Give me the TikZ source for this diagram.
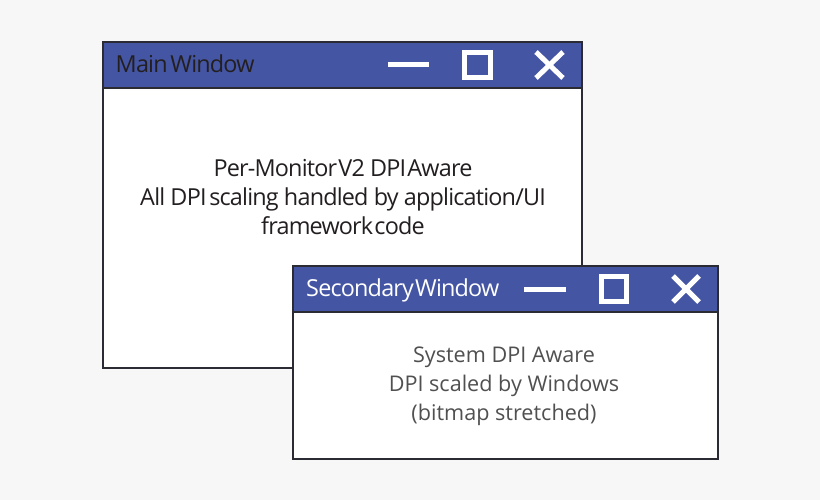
\documentclass[tikz,border=0pt]{standalone}
\usepackage{fontspec}
\setmainfont{Open Sans}
\newfontfamily\tightfont[LetterSpace=-3.5]{Open Sans}
\newfontfamily\softfont{Open Sans}
\definecolor{pagebg}{HTML}{F7F7F7}
\definecolor{barblue}{HTML}{4455A4}
\definecolor{edge}{HTML}{2B2B33}
\definecolor{inkdark}{HTML}{231F20}
\definecolor{inksoft}{HTML}{505050}
\newcommand{\tgt}[1]{\kern-#1pt\relax}
\tikzset{
  winbody/.style={draw=edge,line width=1.3pt,fill=white},
  winbar/.style={draw=edge,line width=1.3pt,fill=barblue},
  glyph/.style={draw=white,line width=5pt},
  bodytext/.style={align=center,font=\tightfont\fontsize{23.4}{29}\selectfont,text=inkdark,inner sep=0pt},
  softtext/.style={align=center,font=\softfont\fontsize{21.6}{29}\selectfont,text=inksoft,inner sep=0pt},
  titletext/.style={anchor=base west,font=\tightfont\fontsize{23.4}{26}\selectfont,inner sep=0pt}
}
\begin{document}
\begin{tikzpicture}[x=1pt,y=-1pt]
\useasboundingbox (0,0) rectangle (820,500);
\fill[pagebg] (0,0) rectangle (820,500);
% main window
\draw[winbody] (103,42) rectangle (582,368);
\draw[winbar] (103,42) rectangle (582,88);
\node[titletext,text=inkdark] (mainTitle) at (115.5,73) {Main \tgt{2.5}Window};
\draw[glyph] (388,65) -- (429,65);
\draw[glyph] (464.8,52.5) rectangle (490.5,77.5);
\draw[glyph] (536,52) -- (563,78);
\draw[glyph] (563,52) -- (536,78);
\node[bodytext] (mainText) at (343,197.5) {Per-Monitor \tgt{4}V2 DPI \tgt{4}Aware\\All DPI \tgt{2.5}scaling handled by application/UI\\framework \tgt{4}code};
% secondary window
\draw[winbody] (293,266) rectangle (718,459);
\draw[winbar] (293,266) rectangle (718,312);
\node[titletext,text=white] (secTitle) at (306,296) {Secondary \tgt{4}Window};
\draw[glyph] (524,289) -- (566,289);
\draw[glyph] (601.5,276.5) rectangle (626.5,301.5);
\draw[glyph] (673,276) -- (699,302);
\draw[glyph] (699,276) -- (673,302);
\node[softtext] (secText) at (504,386) {System DPI Aware\\DPI scaled by Windows\\(bitmap stretched)};
\end{tikzpicture}
\end{document}
